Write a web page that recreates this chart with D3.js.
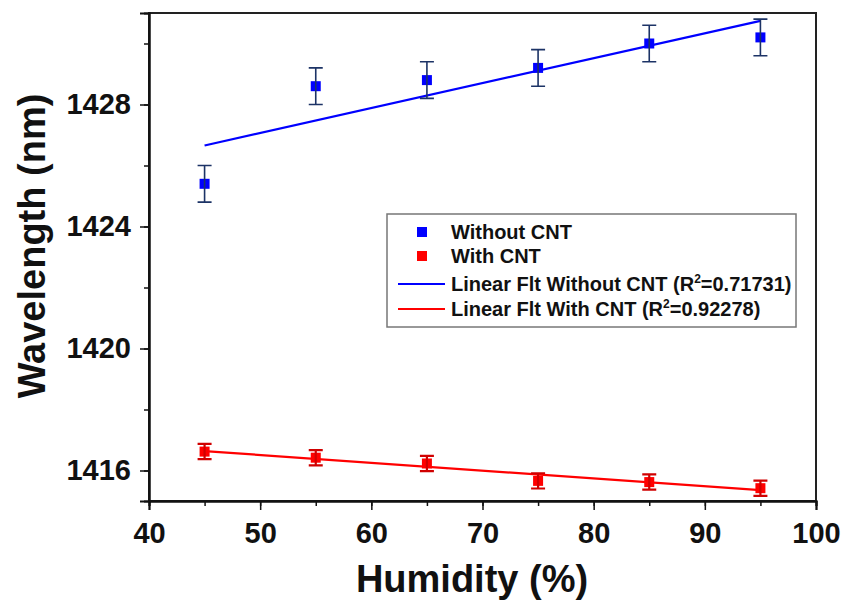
<!DOCTYPE html>
<html>
<head>
<meta charset="utf-8">
<script src="https://cdn.jsdelivr.net/npm/d3@7"></script>
<style>
  body { margin: 0; background: #fff; }
  text { font-family: "Liberation Sans", Arial, sans-serif; font-weight: bold; }
</style>
</head>
<body>
<div id="viz-container"></div>
<script>
// data
const humidity = [45, 55, 65, 75, 85, 95];
const withoutCNT = [1425.4, 1428.6, 1428.8, 1429.2, 1430.0, 1430.2];
const withoutErr = [0.6, 0.6, 0.6, 0.6, 0.6, 0.6];
const withCNT = [1416.62, 1416.42, 1416.23, 1415.66, 1415.62, 1415.42];
const withErr = [0.25, 0.25, 0.25, 0.25, 0.25, 0.25];

const xTicks = [40, 45, 50, 55, 60, 65, 70, 75, 80, 85, 90, 95, 100];
const yTicks = [1416, 1418, 1420, 1422, 1424, 1426, 1428, 1430];
const xLabels = [40, 50, 60, 70, 80, 90, 100];
const yLabels = [1416, 1420, 1424, 1428];
const legendNames = ["Without CNT", "With CNT", "Linear Flt Without CNT", "Linear Flt With CNT"];
const legendR2 = ["0.71731", "0.92278"];

const W = 841, H = 601;
const padL = 149, padR = 816, padT = 13, padB = 501;

let viz = d3.select("#viz-container")
    .append("svg")
    .attr("width", W)
    .attr("height", H);

let x = d3.scaleLinear().domain([40, 100]).range([padL, padR]);
let y = d3.scaleLinear().domain([1415, 1431]).range([padB, padT]);

//frame on top and right
viz.append("rect")
    .attr("x", padL).attr("y", padT)
    .attr("width", padR - padL).attr("height", padB - padT)
    .attr("fill", "none")
    .attr("stroke", "#222")
    .attr("stroke-width", 2);

//minor + major ticks
function drawAxis(axis, tr) {
    let g = viz.append("g").attr("transform", tr).call(axis);
    g.select(".domain").attr("stroke-width", 2).attr("stroke", "#111");
    g.selectAll(".tick line").attr("stroke-width", 1.5).attr("stroke", "#111");
    g.selectAll("text").attr("font-size", 29).attr("fill", "#111");
    return g;
}

drawAxis(d3.axisBottom(x).tickValues(xTicks).tickSize(5).tickFormat(""), "translate(0," + padB + ")");
drawAxis(d3.axisBottom(x).tickValues(xLabels).tickSize(9).tickPadding(12).tickFormat(d3.format("d")), "translate(0," + padB + ")");
drawAxis(d3.axisLeft(y).tickValues(yTicks).tickSize(5).tickFormat(""), "translate(" + padL + ",0)");
drawAxis(d3.axisLeft(y).tickValues(yLabels).tickSize(9).tickPadding(9).tickFormat(d3.format("d")), "translate(" + padL + ",0)");

//axis titles
viz.append("text")
    .text("Humidity (%)")
    .attr("x", 472).attr("y", 592)
    .attr("text-anchor", "middle")
    .attr("font-size", 38)
    .attr("fill", "#111");

viz.append("text")
    .text("Wavelength (nm)")
    .attr("transform", "translate(45,246) rotate(-90)")
    .attr("text-anchor", "middle")
    .attr("font-size", 38)
    .attr("fill", "#111");

//least squares line through the points
function fit(xs, ys) {
    let mx = d3.mean(xs), my = d3.mean(ys);
    let sxy = d3.sum(xs, (d, i) => (d - mx) * (ys[i] - my));
    let sxx = d3.sum(xs, d => (d - mx) * (d - mx));
    let b = sxy / sxx;
    return v => my + b * (v - mx);
}

function drawSeries(vals, errs, fill, errColor, errWidth) {
    let f = fit(humidity, vals);
    let ends = d3.extent(humidity);
    viz.append("path")
        .attr("d", d3.line().x(d => x(d)).y(d => y(f(d)))(ends))
        .attr("stroke", fill)
        .attr("stroke-width", 2.2)
        .attr("fill", "none");

    let groups = viz.selectAll(null).data(humidity).enter().append("g")
        .attr("transform", (d, i) => "translate(" + x(d) + ",0)");

    groups.append("rect")
        .attr("x", -5).attr("y", (d, i) => y(vals[i]) - 5)
        .attr("width", 10).attr("height", 10)
        .attr("fill", fill);

    //error bars
    groups.append("path")
        .attr("d", (d, i) => {
            let y1 = y(vals[i] + errs[i]), y2 = y(vals[i] - errs[i]);
            return "M-7," + y1 + "H7M0," + y1 + "V" + y2 + "M-7," + y2 + "H7";
        })
        .attr("stroke", errColor)
        .attr("stroke-width", errWidth)
        .attr("fill", "none");
}

drawSeries(withoutCNT, withoutErr, "#0000ff", "#1c3366", 1.6);
drawSeries(withCNT, withErr, "#ff0000", "#d00000", 2.2);

//legend
let lg = viz.append("g");
lg.append("rect")
    .attr("x", 387).attr("y", 214)
    .attr("width", 409).attr("height", 113)
    .attr("fill", "#fff")
    .attr("stroke", "#777")
    .attr("stroke-width", 1.5);

const legendY = [232, 256, 284, 309];
const legendColor = ["#0000ff", "#ff0000", "#0000ff", "#ff0000"];

legendNames.forEach((name, i) => {
    if (i < 2) {
        lg.append("rect")
            .attr("x", 417).attr("y", legendY[i] - 5)
            .attr("width", 10).attr("height", 10)
            .attr("fill", legendColor[i]);
    } else {
        lg.append("line")
            .attr("x1", 398).attr("x2", 445)
            .attr("y1", legendY[i]).attr("y2", legendY[i])
            .attr("stroke", legendColor[i])
            .attr("stroke-width", 2);
    }
    let t = lg.append("text")
        .attr("x", 451).attr("y", legendY[i] + 7)
        .attr("font-size", 20)
        .attr("fill", "#111");
    if (i < 2) {
        t.text(name);
    } else {
        t.append("tspan").text(name + " (R");
        t.append("tspan").text("2").attr("font-size", 12).attr("dy", -8);
        t.append("tspan").text("=" + legendR2[i - 2] + ")").attr("dy", 8);
    }
});
</script>
</body>
</html>
